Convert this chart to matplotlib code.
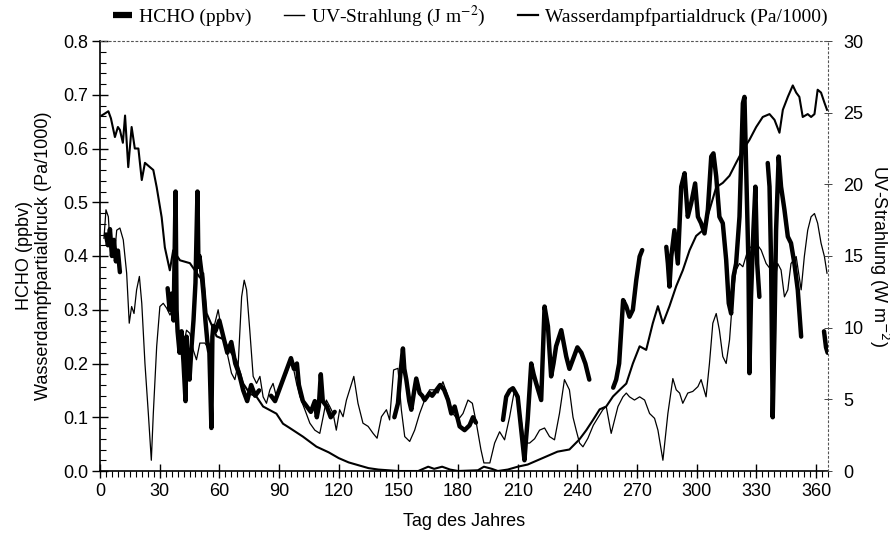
import numpy as np
import matplotlib
matplotlib.use("Agg")
import matplotlib.pyplot as plt
from matplotlib.font_manager import FontProperties
from matplotlib.ticker import MultipleLocator
from matplotlib.lines import Line2D

# --- HCHO (ppbv): measured segments, NaN marks data gaps -------------------
hcho_day = [3, 4, 5, 6, 7, 8, 9, 10, 11,
            34, 35, 36, 37, 38, 38.5, 39, 40, 41, 42, 43, 43.5, 44, 45, 46, 47, 48,
            49, 49.5, 50, 51, 52, 53, 54, 55, 56, 56.5, 57, 58, 60, 62, 64, 66, 68,
            70, 72, 74, 76, 78, 80, 81,
            86, 88, 90, 92, 94, 96, 97.5, 99, 100, 102, 104, 106, 108, 109, 110,
            111, 112, 114, 116, 118, 119,
            148, 149.8, 151, 152.3, 153, 154, 155.5, 156.5, 158, 159, 160.7, 162,
            163.2, 165.7, 167, 169, 171, 173, 175, 176.6, 178.3, 180.8, 183.3,
            185.8, 187.5, 189, 190,
            202.6, 204.2, 206, 207.6, 209, 210, 211.8, 213.4, 214.2, 215, 216.8,
            218, 219.3, 221.8, 223.5, 225.2, 226.8, 228, 229.3, 231.9, 233, 234.4,
            236, 238, 240, 242, 244, 246, 247,
            258, 259.5, 261, 262, 263, 264.6, 266.2, 267.9, 269.6, 271.3, 272.6, 273,
            284.7, 285.5, 286.3, 287.2, 288.8, 290.5, 292.2, 293.9, 295.5, 297.2,
            299.2, 300.6, 302.2, 303.9, 305.6, 307.3, 308.4, 309.8, 311.4, 313.1,
            314.8, 316.1, 317.3, 318.5, 319.8, 321.5, 323.2, 324, 324.8, 326, 326.5,
            327.3, 328.5, 329.5, 330.4, 331.5, 332,
            335.7, 336.6, 337.4, 338.2, 339.1, 339.9, 341.2, 342.4, 344.1, 345.8,
            347.4, 349.1, 350.8, 352.5, 353,
            364, 365, 365.8]
hcho_ppbv = [0.44, 0.42, 0.45, 0.40, 0.43, 0.39, 0.41, 0.37, np.nan,
             0.34, 0.30, 0.33, 0.28, 0.52, 0.30, 0.26, 0.22, 0.26, 0.20, 0.13, 0.25,
             0.20, 0.17, 0.23, 0.28, 0.35,
             0.52, 0.38, 0.40, 0.37, 0.33, 0.28, 0.24, 0.22, 0.08, 0.25, 0.27, 0.26,
             0.28, 0.25, 0.22, 0.24, 0.20,
             0.18, 0.15, 0.13, 0.16, 0.14, 0.15, np.nan,
             0.14, 0.13, 0.15, 0.17, 0.19, 0.21, 0.19, 0.20, 0.16, 0.13, 0.12, 0.11,
             0.13, 0.10, 0.12, 0.18, 0.13, 0.12, 0.10, 0.11, np.nan,
             0.10, 0.126, 0.18, 0.228, 0.19, 0.17, 0.13, 0.114, 0.15, 0.172, 0.145,
             0.14, 0.132, 0.145, 0.14, 0.15, 0.16, 0.151, 0.132, 0.107, 0.12, 0.083,
             0.076, 0.085, 0.10, 0.09, np.nan,
             0.095, 0.138, 0.15, 0.154, 0.145, 0.138, 0.076, 0.02, 0.06, 0.095, 0.20,
             0.18, 0.163, 0.132, 0.306, 0.269, 0.176, 0.20, 0.232, 0.262, 0.24, 0.213,
             0.19, 0.21, 0.23, 0.22, 0.20, 0.17, np.nan,
             0.155, 0.17, 0.20, 0.26, 0.318, 0.306, 0.287, 0.30, 0.355, 0.399, 0.411,
             np.nan,
             0.417, 0.386, 0.343, 0.399, 0.448, 0.386, 0.529, 0.554, 0.473, 0.498,
             0.535, 0.473, 0.461, 0.442, 0.486, 0.585, 0.591, 0.548, 0.473, 0.461,
             0.393, 0.312, 0.293, 0.362, 0.386, 0.473, 0.684, 0.696, 0.573, 0.386,
             0.182, 0.324, 0.448, 0.529, 0.386, 0.324, np.nan,
             0.573, 0.529, 0.386, 0.10, 0.262, 0.448, 0.585, 0.529, 0.486, 0.436,
             0.424, 0.386, 0.337, 0.25, np.nan,
             0.26, 0.23, 0.22]

# --- UV radiation (W m^-2), right axis -------------------------------------
uv_day = [0.8, 2, 4.2, 5.5, 7.5, 9, 10, 11.5, 12.6, 14.2, 15.9, 17.5, 19.3, 21,
          22.6, 25.1, 26.8, 28.5, 31, 32.6, 35.1, 36.8, 40.2, 45.2, 50.2, 51.9,
          53.6, 58.6, 62, 65.3, 68.6, 72, 75.3, 78.6, 82, 88.7, 92, 95.4, 102,
          108.8, 115, 120, 125, 130, 135, 140, 145, 150, 160, 165, 168, 172, 176,
          180, 190, 193, 197, 200, 205, 210, 215, 220, 225, 230, 236, 241, 244.5,
          247.8, 251.2, 254.5, 257.9, 261.2, 264.6, 267.9, 271.3, 274.6, 277.9,
          280.5, 283, 286.3, 289.7, 293, 296.4, 299.7, 303.1, 306.4, 309.8, 313.1,
          316.5, 319.8, 323.2, 326.5, 329.9, 333.2, 336.6, 339.1, 341.6, 343.3,
          345.8, 348.3, 350, 351.6, 353.3, 355.8, 357.5, 359.2, 360.8, 362.5, 364.2,
          365.5]
uv_wm2 = [24.8, 24.9, 25.1, 24.6, 23.3, 24.0, 23.8, 22.9, 24.8, 21.2, 24.0, 22.5,
          22.5, 20.3, 21.5, 21.2, 21.0, 19.8, 17.7, 15.6, 14.0, 15.4, 14.7, 14.5,
          13.5, 13.8, 11.0, 9.4, 9.2, 8.4, 7.7, 6.1, 5.4, 5.2, 4.5, 4.0, 3.3, 3.0,
          2.4, 1.7, 1.3, 0.9, 0.6, 0.4, 0.2, 0.1, 0.05, 0.0, 0.0, 0.3, 0.15, 0.3,
          0.1, 0.0, 0.05, 0.3, 0.15, 0.0, 0.1, 0.3, 0.45, 0.75, 1.05, 1.35, 1.5,
          2.2, 2.85, 3.55, 4.3, 4.5, 5.2, 5.65, 6.1, 7.5, 8.7, 8.45, 10.3, 11.5,
          10.3, 11.5, 12.9, 14.0, 15.4, 16.4, 16.8, 18.2, 19.8, 20.1, 20.6, 21.5,
          22.4, 23.1, 24.0, 24.7, 24.9, 24.5, 23.6, 25.2, 26.1, 26.9, 26.4, 26.1,
          24.7, 24.9, 24.7, 24.9, 26.6, 26.4, 25.7, 25.2]

# --- Water vapour partial pressure (Pa/1000), left axis ---------------------
wv_day = [2, 3, 4.2, 5, 5.9, 6.7, 7.5, 8.4, 10, 11.7, 13.4, 14.7, 15.9, 17.1,
          18.4, 19.8, 21, 22.6, 24.3, 25.8, 26.8, 28.5, 30.1, 31.8, 33.5, 35.2,
          36.8, 38.5, 40.2, 41.9, 43.5, 45.2, 46.9, 48.5, 50.2, 52.7, 55.2, 56.9,
          59.4, 61.1, 63.6, 66.1, 67.8, 69.5, 71.2, 72.5, 73.7, 75.3, 77, 78.7,
          80.4, 82, 83.7, 85.4, 87, 88.7, 91.2, 93.8, 95.4, 97.1, 98.8, 100.5, 103,
          105.5, 108, 110.5, 112.2, 113.8, 115.5, 117.2, 118.8, 120.5, 122.2,
          123.9, 125.5, 127.6, 129.7, 132.2, 134.8, 137.3, 139.3, 141.5, 144,
          145.6, 147.6, 149.8, 151.5, 153.2, 155.7, 158.2, 160.7, 163.2, 165.7,
          168.2, 169.9, 172.4, 175, 177.4, 180, 182.5, 185, 187.2, 189.2, 191.5,
          193, 196, 198.4, 200.9, 203.4, 205.9, 208.4, 211, 213.4, 216, 218.5, 221,
          223.5, 226, 228.5, 231, 233.5, 236, 237.8, 239.4, 241.1, 242.8, 245.3,
          248, 250.5, 252.8, 254.5, 257, 260.4, 262.9, 264.6, 266.2, 268.7, 271.3,
          273.8, 276.3, 278.8, 280.5, 283, 285.5, 288, 289.7, 291.4, 293, 295.5,
          298, 300.6, 302.2, 304.7, 306.4, 308.1, 309.8, 311.4, 313.1, 314.8,
          316.5, 318.1, 319.8, 321.5, 323.2, 325.7, 327.3, 329.9, 332.4, 334.9,
          337.4, 339.1, 340.7, 342.4, 344.1, 345.8, 347.4, 350, 352.5, 354.1,
          355.8, 357.5, 359.2, 360.8, 362.5, 364.2, 365.5]
wv_kpa = [0.433, 0.486, 0.473, 0.424, 0.399, 0.43, 0.41, 0.448, 0.452, 0.43,
          0.368, 0.275, 0.306, 0.293, 0.337, 0.362, 0.312, 0.2, 0.107, 0.02, 0.107,
          0.232, 0.306, 0.312, 0.303, 0.29, 0.306, 0.275, 0.25, 0.232, 0.262,
          0.256, 0.225, 0.207, 0.238, 0.238, 0.225, 0.262, 0.3, 0.262, 0.225,
          0.182, 0.17, 0.2, 0.324, 0.355, 0.337, 0.262, 0.176, 0.163, 0.176, 0.138,
          0.126, 0.151, 0.163, 0.138, 0.163, 0.182, 0.2, 0.194, 0.163, 0.138,
          0.114, 0.089, 0.076, 0.07, 0.101, 0.132, 0.12, 0.107, 0.076, 0.114,
          0.101, 0.132, 0.151, 0.176, 0.126, 0.089, 0.083, 0.07, 0.061, 0.101,
          0.114, 0.095, 0.188, 0.191, 0.114, 0.064, 0.055, 0.076, 0.107, 0.132,
          0.151, 0.151, 0.145, 0.166, 0.138, 0.107, 0.095, 0.107, 0.132, 0.126,
          0.089, 0.04, 0.015, 0.015, 0.052, 0.073, 0.058, 0.1, 0.151, 0.114, 0.052,
          0.052, 0.06, 0.076, 0.08, 0.064, 0.058, 0.107, 0.17, 0.151, 0.1, 0.076,
          0.052, 0.045, 0.061, 0.085, 0.1, 0.114, 0.12, 0.07, 0.12, 0.138, 0.145,
          0.138, 0.132, 0.138, 0.132, 0.107, 0.098, 0.076, 0.02, 0.107, 0.172,
          0.151, 0.145, 0.126, 0.145, 0.148, 0.157, 0.17, 0.138, 0.2, 0.275, 0.293,
          0.262, 0.213, 0.2, 0.244, 0.324, 0.374, 0.386, 0.38, 0.411, 0.417, 0.424,
          0.411, 0.386, 0.374, 0.349, 0.386, 0.374, 0.324, 0.337, 0.386, 0.399,
          0.337, 0.399, 0.448, 0.473, 0.479, 0.461, 0.424, 0.399, 0.368]

x_ticks = [0, 30, 60, 90, 120, 150, 180, 210, 240, 270, 300, 330, 360]
left_ticks = [0.0, 0.1, 0.2, 0.3, 0.4, 0.5, 0.6, 0.7, 0.8]
right_ticks = [0, 5, 10, 15, 20, 25, 30]

SANS = "Liberation Sans"
SERIF = "Liberation Serif"
plt.rcParams["font.family"] = [SANS, "DejaVu Sans"]

W, H = 890, 539
fig = plt.figure(figsize=(W / 100, H / 100), dpi=100)
ax = fig.add_axes([100 / W, 1 - 471 / H, 728 / W, 430 / H])
ax2 = ax.twinx()

lw_hcho, lw_uv, lw_wv = 3.2, 1.5, 0.9
ax.plot(wv_day, wv_kpa, color="black", lw=lw_wv, zorder=2)
ax.plot(hcho_day, hcho_ppbv, color="black", lw=lw_hcho, zorder=3,
        solid_joinstyle="round", solid_capstyle="round")
ax2.plot(uv_day, uv_wm2, color="black", lw=lw_uv, zorder=2)

ax.set_xlim(0, 366)
ax.set_ylim(0, 0.8)
ax2.set_ylim(0, 30)

ax.set_xticks(x_ticks)
ax.set_yticks(left_ticks)
ax.set_yticklabels([f"{v:.1f}" for v in left_ticks])
ax2.set_yticks(right_ticks)
ax.xaxis.set_minor_locator(MultipleLocator(3))
ax.yaxis.set_minor_locator(MultipleLocator(0.02))

ax.tick_params(axis="x", which="major", direction="inout", length=10, width=1.0,
               labelsize=13, pad=4, top=False)
ax.tick_params(axis="x", which="minor", direction="out", length=4, width=0.8, top=False)
ax.tick_params(axis="y", which="major", direction="inout", length=11, width=1.0,
               labelsize=13, pad=3, right=False)
ax.tick_params(axis="y", which="minor", direction="in", length=4, width=0.8, right=False)
ax2.tick_params(axis="y", which="major", direction="inout", length=6, width=0.7,
                color="#444444", labelsize=13, pad=8)

for name in ("top", "right"):
    ax.spines[name].set_visible(False)
for name in ("left", "bottom"):
    ax.spines[name].set_linewidth(1.2)
for name in ("left", "bottom"):
    ax2.spines[name].set_visible(False)
for name in ("top", "right"):
    ax2.spines[name].set_linestyle((0, (1.5, 2.5)))
    ax2.spines[name].set_linewidth(0.8)
    ax2.spines[name].set_color("#555555")

ax.set_xlabel("Tag des Jahres", fontsize=13, labelpad=9)
ax.set_ylabel("HCHO (ppbv)\nWasserdampfpartialdruck (Pa/1000)", fontsize=13,
              labelpad=8, linespacing=1.15)
ax2.set_ylabel("UV-Strahlung (W m$^{-2}$)", fontsize=13, rotation=270, labelpad=20)

handles = [Line2D([], [], color="black", lw=4.5, solid_capstyle="butt"),
           Line2D([], [], color="black", lw=1.0),
           Line2D([], [], color="black", lw=1.6)]
labels = ["HCHO (ppbv)", "UV-Strahlung (J m$^{-2}$)", "Wasserdampfpartialdruck (Pa/1000)"]
fig.legend(handles, labels, loc="center", bbox_to_anchor=(470 / W, 1 - 16 / H),
           ncol=3, frameon=False, handlelength=1.0, handletextpad=0.35,
           columnspacing=1.7, borderaxespad=0,
           prop=FontProperties(family=SERIF, size=14, math_fontfamily="stix"))

fig.savefig("out.png", dpi=100)
